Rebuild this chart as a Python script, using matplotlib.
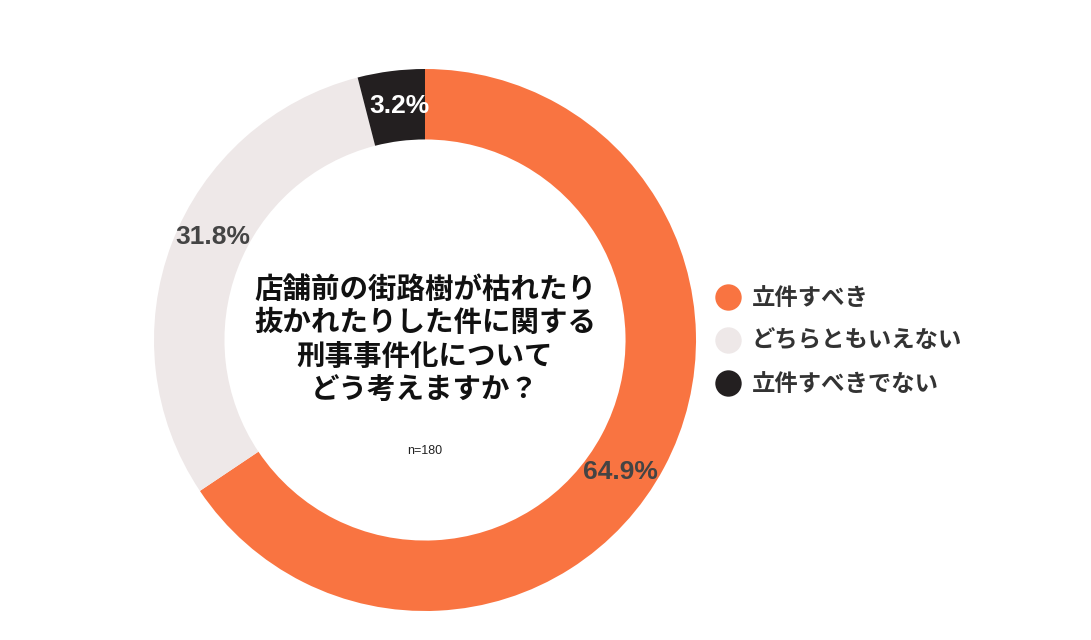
import matplotlib
matplotlib.use("Agg")
import numpy as np
import matplotlib.pyplot as plt
from matplotlib.lines import Line2D

plt.rcParams['font.family'] = ['Noto Sans CJK JP', 'DejaVu Sans']

categories = ["立件すべき", "どちらともいえない", "立件すべきでない"]
values = [64.9, 31.8, 3.2]            # printed percentages
wedge_sizes = [65.6, 30.4, 4.0]       # drawn arc shares as measured in the picture
colors = ["#F97441", "#EEE8E8", "#231F20"]
label_colors = ["#444444", "#444444", "#FFFFFF"]
label_shift_deg = [-6, -5, -1]
title_lines = ["店舗前の街路樹が枯れたり", "抜かれたりした件に関する", "刑事事件化について", "どう考えますか？"]
n_text = "n=180"

W, H = 1091, 640
fig = plt.figure(figsize=(W / 100, H / 100), dpi=100)
cx, cy, R = 425, 340, 271
ax = fig.add_axes([(cx - R) / W, (H - cy - R) / H, 2 * R / W, 2 * R / H])
ax.set_aspect('equal')

wedges, texts = ax.pie(
    wedge_sizes, colors=colors, startangle=90, counterclock=False,
    wedgeprops=dict(width=0.26, edgecolor='none'))
for w, v, c, s in zip(wedges, values, label_colors, label_shift_deg):
    ang = np.deg2rad((w.theta1 + w.theta2) / 2 + s)
    r = 0.87
    ax.text(r * np.cos(ang), r * np.sin(ang), f"{v:.1f}%", ha='center', va='center',
            fontsize=19, fontweight='bold', color=c,
            family=['Liberation Sans', 'DejaVu Sans'])
ax.set_xlim(-1, 1)
ax.set_ylim(-1, 1)

ax.text(0, 0.0, "\n".join(title_lines), ha='center', va='center', fontsize=20.5,
        fontweight='bold', color='#111111', linespacing=1.24)
ax.text(0, -0.41, n_text, ha='center', va='center', fontsize=9,
        family=['Liberation Sans', 'DejaVu Sans'], color='#222222')

handles = [Line2D([0], [0], marker='o', linestyle='none', markersize=19,
                  markerfacecolor=c, markeredgecolor='none') for c in colors]
fig.legend(handles, categories, loc='center left', bbox_to_anchor=(705 / W, 1 - 341 / H),
           frameon=False, prop=dict(size=16.8, weight='bold'), labelcolor='#333333',
           handletextpad=0.45, labelspacing=0.8, handlelength=1.15, borderaxespad=0)

fig.savefig("out.png", dpi=100, facecolor='white')
